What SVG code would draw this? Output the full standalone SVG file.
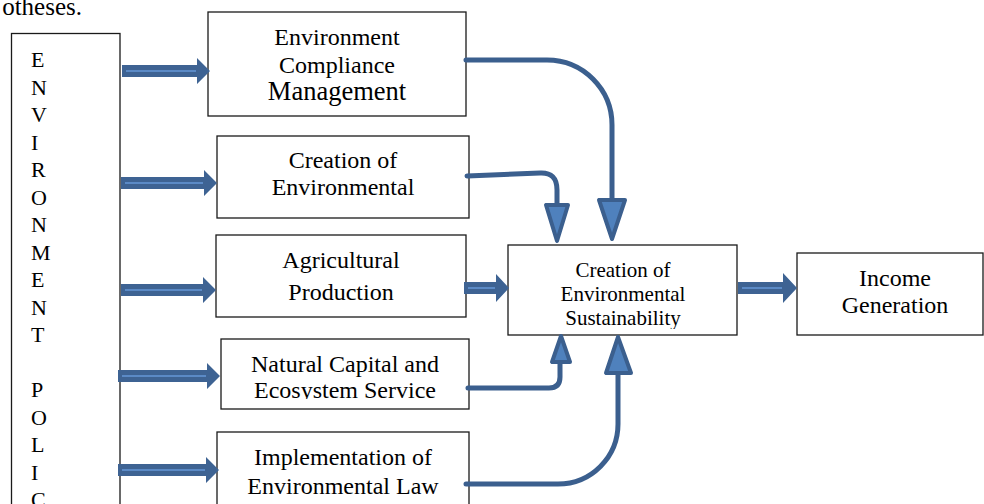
<svg xmlns="http://www.w3.org/2000/svg" width="984" height="504" viewBox="0 0 984 504">
<style>
.t{font-family:"Liberation Serif","Times New Roman",serif;fill:#000;}
.c{text-anchor:middle;}
.box{fill:#fff;stroke:#1a1a1a;stroke-width:1.3;}
.ba{fill:#3e6393;}
.bs{stroke:#5b8ac6;stroke-width:2;fill:none;}
.con{fill:none;stroke:#3b5f8e;stroke-width:5;stroke-linecap:round;stroke-linejoin:round;}
.ah{fill:#4f81bd;stroke:#3b5f8e;stroke-width:4;stroke-linejoin:round;}
</style>
<defs>
<clipPath id="clipEco"><rect x="221" y="339" width="248" height="60"/></clipPath>
<clipPath id="clipSus"><rect x="508" y="245" width="229" height="84"/></clipPath>
</defs>
<rect width="984" height="504" fill="#fff"/>
<text class="t" x="82" y="15" font-size="25" text-anchor="end">otheses.</text>

<g id="policy">
<rect class="box" x="11.5" y="33.5" width="108.5" height="480"/>
<g class="t" font-size="22">
<text x="31" y="67">E</text>
<text x="31" y="94.5">N</text>
<text x="31" y="122">V</text>
<text x="31" y="149.5">I</text>
<text x="31" y="177">R</text>
<text x="31" y="204.5">O</text>
<text x="31" y="232">N</text>
<text x="31" y="259.5">M</text>
<text x="31" y="287">E</text>
<text x="31" y="314.5">N</text>
<text x="31" y="342">T</text>
<text x="31" y="397">P</text>
<text x="31" y="424.5">O</text>
<text x="31" y="452">L</text>
<text x="31" y="479.5">I</text>
<text x="31" y="507">C</text>
</g>
</g>

<g id="compliance">
<rect class="box" x="208" y="12" width="258" height="104"/>
<text class="t c" x="337" y="45" font-size="24">Environment</text>
<text class="t c" x="337" y="73" font-size="24">Compliance</text>
<text class="t c" x="337" y="100" font-size="26.5">Management</text>
</g>

<g id="creation-awareness">
<rect class="box" x="217" y="136" width="252" height="82"/>
<text class="t c" x="343" y="168" font-size="24">Creation of</text>
<text class="t c" x="343" y="195" font-size="24">Environmental</text>
</g>

<g id="agricultural">
<rect class="box" x="216" y="235" width="250" height="82"/>
<text class="t c" x="341" y="268" font-size="24">Agricultural</text>
<text class="t c" x="341" y="300" font-size="24">Production</text>
</g>

<g id="natural-capital">
<rect class="box" x="221" y="339" width="248" height="70"/>
<text class="t c" x="345" y="372" font-size="24">Natural Capital and</text>
<text class="t c" x="345" y="398" font-size="24" clip-path="url(#clipEco)">Ecosystem Service</text>
</g>

<g id="environmental-law">
<rect class="box" x="217" y="432" width="252" height="80"/>
<text class="t c" x="343" y="465" font-size="24">Implementation of</text>
<text class="t c" x="343" y="494" font-size="24">Environmental Law</text>
</g>

<g id="sustainability">
<rect class="box" x="508" y="245" width="229" height="90"/>
<text class="t c" x="623" y="277" font-size="21">Creation of</text>
<text class="t c" x="623" y="301" font-size="21">Environmental</text>
<text class="t c" x="623" y="325" font-size="21" clip-path="url(#clipSus)">Sustainability</text>
</g>

<g id="income">
<rect class="box" x="797" y="253" width="186" height="82"/>
<text class="t c" x="895" y="286" font-size="24">Income</text>
<text class="t c" x="895" y="313" font-size="24">Generation</text>
</g>

<g id="connectors">
<g id="block-arrows">
<polygon class="ba" points="122,65 197,65 197,58 210,71 197,84 197,77 122,77"/>
<line class="bs" x1="126" y1="71" x2="196" y2="71"/>
<polygon class="ba" points="121,177 204,177 204,170 217,183 204,196 204,189 121,189"/>
<line class="bs" x1="125" y1="183" x2="203" y2="183"/>
<polygon class="ba" points="121,284 203,284 203,277 216,290 203,303 203,296 121,296"/>
<line class="bs" x1="125" y1="290" x2="202" y2="290"/>
<polygon class="ba" points="118,370 207,370 207,363 220,376 207,389 207,382 118,382"/>
<line class="bs" x1="122" y1="376" x2="206" y2="376"/>
<polygon class="ba" points="118,464 206,464 206,457 219,470 206,483 206,476 118,476"/>
<line class="bs" x1="122" y1="470" x2="205" y2="470"/>
<polygon class="ba" points="464,282 496,282 496,274 509,288 496,302 496,294 464,294"/>
<line class="bs" x1="468" y1="288" x2="495" y2="288"/>
<polygon class="ba" points="738,282 783,282 783,273 797,288 783,303 783,294 738,294"/>
<line class="bs" x1="742" y1="288" x2="782" y2="288"/>
</g>
<g id="curved">
<path class="con" d="M466,60 H547 A65,65 0 0 1 612,125 V200"/>
<polygon class="ah" points="599,200 625,200 612,239"/>
<path class="con" d="M467,176 L540,173 Q557,172 557,190 V205"/>
<polygon class="ah" points="546,205 568,205 557,241"/>
<path class="con" d="M468,388 H549 Q560,388 560,377 V362"/>
<polygon class="ah" points="552,362 570,362 561,336"/>
<path class="con" d="M466,484 H558 A60,60 0 0 0 618,424 V373"/>
<polygon class="ah" points="606,373 631,373 618,337"/>
</g>
</g>
</svg>
